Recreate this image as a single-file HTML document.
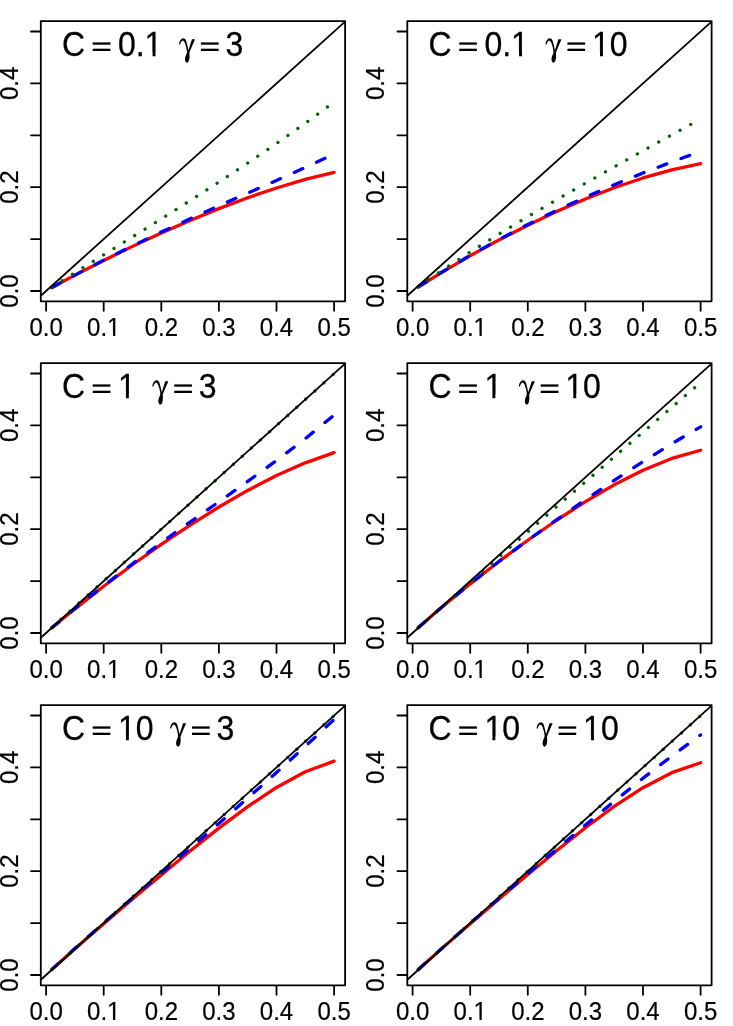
<!DOCTYPE html><html><head><meta charset="utf-8"><title>plot</title><style>html,body{margin:0;padding:0;background:#fff}svg{display:block}text{font-family:"Liberation Sans",sans-serif;fill:#000}</style></head><body><div style="will-change:transform;width:733px;height:1026px;background:#fff">
<svg width="733" height="1026" viewBox="0 0 733 1026">
<rect width="733" height="1026" fill="#fff"/>
<g transform="translate(0.0,0.0)">
<polyline points="51.86,287.53 74.90,275.17 103.70,260.42 132.50,246.37 161.30,233.04 190.10,220.43 218.90,208.64 247.70,197.76 276.50,187.96 305.30,179.43 334.10,172.43" fill="none" stroke="#ff0000" stroke-width="3.3" stroke-linecap="round" stroke-linejoin="round"/>
<polyline points="51.86,287.53 74.90,275.09 103.70,260.15 132.50,245.83 161.30,232.08 190.10,218.81 218.90,205.88 247.70,193.15 276.50,180.42 305.30,167.49 334.10,154.09" fill="none" stroke="#0000ff" stroke-width="3.3" stroke-linecap="round" stroke-linejoin="round" stroke-dasharray="9.3 15.11"/>
<polyline points="51.86,287.11 74.90,272.76 103.70,254.84 132.50,236.89 161.30,218.84 190.10,200.60 218.90,182.05 247.70,163.08 276.50,143.54 305.30,123.27 334.10,102.08" fill="none" stroke="#006400" stroke-width="3.3" stroke-linecap="round" stroke-linejoin="round" stroke-dasharray="0.01 12.19"/>
<line x1="40.8" y1="295.78" x2="345.1" y2="21.59" stroke="#000" stroke-width="1.8"/>
<rect x="40.8" y="21.1" width="304.30" height="280.20" fill="none" stroke="#000" stroke-width="1.8" stroke-linejoin="round"/>
<line x1="46.10" y1="302.0" x2="46.10" y2="310.75" stroke="#000" stroke-width="1.8" stroke-linecap="round"/>
<g transform="translate(46.10,336.0) scale(1,1.04)"><text font-size="24" text-anchor="middle" stroke="#000" stroke-width="0.2">0.0</text></g>
<line x1="40.099999999999994" y1="291.00" x2="30.999999999999996" y2="291.00" stroke="#000" stroke-width="1.8" stroke-linecap="round"/>
<text transform="translate(17.8,291.00) rotate(-90) scale(1,1.04)" font-size="24" text-anchor="middle" stroke="#000" stroke-width="0.2">0.0</text>
<line x1="103.70" y1="302.0" x2="103.70" y2="310.75" stroke="#000" stroke-width="1.8" stroke-linecap="round"/>
<g transform="translate(103.70,336.0) scale(1,1.04)"><text font-size="24" text-anchor="middle" stroke="#000" stroke-width="0.2">0.1</text><rect x="3.69" y="-2.23" width="5.64" height="3.67" fill="#fff"/><rect x="11.54" y="-2.23" width="5.74" height="3.67" fill="#fff"/></g>
<line x1="40.099999999999994" y1="239.10" x2="30.999999999999996" y2="239.10" stroke="#000" stroke-width="1.8" stroke-linecap="round"/>
<line x1="161.30" y1="302.0" x2="161.30" y2="310.75" stroke="#000" stroke-width="1.8" stroke-linecap="round"/>
<g transform="translate(161.30,336.0) scale(1,1.04)"><text font-size="24" text-anchor="middle" stroke="#000" stroke-width="0.2">0.2</text></g>
<line x1="40.099999999999994" y1="187.20" x2="30.999999999999996" y2="187.20" stroke="#000" stroke-width="1.8" stroke-linecap="round"/>
<text transform="translate(17.8,187.20) rotate(-90) scale(1,1.04)" font-size="24" text-anchor="middle" stroke="#000" stroke-width="0.2">0.2</text>
<line x1="218.90" y1="302.0" x2="218.90" y2="310.75" stroke="#000" stroke-width="1.8" stroke-linecap="round"/>
<g transform="translate(218.90,336.0) scale(1,1.04)"><text font-size="24" text-anchor="middle" stroke="#000" stroke-width="0.2">0.3</text></g>
<line x1="40.099999999999994" y1="135.30" x2="30.999999999999996" y2="135.30" stroke="#000" stroke-width="1.8" stroke-linecap="round"/>
<line x1="276.50" y1="302.0" x2="276.50" y2="310.75" stroke="#000" stroke-width="1.8" stroke-linecap="round"/>
<g transform="translate(276.50,336.0) scale(1,1.04)"><text font-size="24" text-anchor="middle" stroke="#000" stroke-width="0.2">0.4</text></g>
<line x1="40.099999999999994" y1="83.40" x2="30.999999999999996" y2="83.40" stroke="#000" stroke-width="1.8" stroke-linecap="round"/>
<text transform="translate(17.8,83.40) rotate(-90) scale(1,1.04)" font-size="24" text-anchor="middle" stroke="#000" stroke-width="0.2">0.4</text>
<line x1="334.10" y1="302.0" x2="334.10" y2="310.75" stroke="#000" stroke-width="1.8" stroke-linecap="round"/>
<g transform="translate(334.10,336.0) scale(1,1.04)"><text font-size="24" text-anchor="middle" stroke="#000" stroke-width="0.2">0.5</text></g>
<line x1="40.099999999999994" y1="31.50" x2="30.999999999999996" y2="31.50" stroke="#000" stroke-width="1.8" stroke-linecap="round"/>
<g transform="translate(62.00,55.7) scale(1,1.09)"><text font-size="32" stroke="#000" stroke-width="0.25">C</text></g>
<rect x="92.70" y="42.4" width="17.7" height="2.3" fill="#000"/><rect x="92.70" y="48.7" width="17.7" height="2.3" fill="#000"/>
<g transform="translate(117.90,55.7) scale(1,1.09)"><text font-size="32" stroke="#000" stroke-width="0.25">0.1</text><rect x="27.16" y="-2.97" width="7.52" height="4.89" fill="#fff"/><rect x="37.63" y="-2.97" width="7.66" height="4.89" fill="#fff"/></g>
<path transform="translate(179.30,55.60)" d="M-0.33 -11.10C-0.21 -11.64 0.02 -13.42 0.43 -14.34C0.84 -15.27 1.58 -16.14 2.15 -16.63C2.72 -17.12 3.26 -17.30 3.87 -17.28C4.47 -17.26 5.24 -17.07 5.78 -16.52C6.32 -15.97 6.72 -15.09 7.11 -13.96C7.51 -12.83 7.81 -11.19 8.15 -9.76C8.48 -8.33 8.97 -6.10 9.14 -5.37L12.65 -16.44L15.71 -16.44C15.10 -15.01 13.02 -10.11 12.08 -7.85C11.14 -5.59 10.39 -3.71 10.06 -2.88C10.09 -2.44 10.28 -1.23 10.28 -0.21C10.28 0.81 10.23 2.21 10.06 3.23C9.88 4.25 9.61 5.27 9.21 5.90C8.82 6.54 8.16 7.00 7.69 7.05C7.21 7.10 6.68 6.72 6.35 6.21C6.02 5.70 5.73 4.87 5.70 3.99C5.67 3.11 5.86 1.99 6.16 0.94C6.46 -0.11 7.25 -1.36 7.50 -2.31C7.74 -3.27 7.74 -3.68 7.61 -4.79C7.48 -5.91 7.07 -7.69 6.73 -8.99C6.39 -10.30 5.96 -11.75 5.59 -12.62C5.22 -13.50 4.88 -13.91 4.52 -14.27C4.15 -14.62 3.78 -14.76 3.41 -14.76C3.03 -14.76 2.61 -14.60 2.26 -14.27C1.92 -13.93 1.59 -13.27 1.35 -12.74C1.10 -12.21 0.90 -11.37 0.81 -11.10L-0.33 -11.10Z" fill="#000"/>
<rect x="200.90" y="42.4" width="17.7" height="2.3" fill="#000"/><rect x="200.90" y="48.7" width="17.7" height="2.3" fill="#000"/>
<g transform="translate(225.50,55.7) scale(1,1.09)"><text font-size="32" stroke="#000" stroke-width="0.25">3</text></g>
</g>
<g transform="translate(366.5,0.0)">
<polyline points="51.86,286.96 74.90,272.57 103.70,255.68 132.50,239.92 161.30,225.22 190.10,211.57 218.90,199.05 247.70,187.77 276.50,177.94 305.30,169.80 334.10,163.69" fill="none" stroke="#ff0000" stroke-width="3.3" stroke-linecap="round" stroke-linejoin="round"/>
<polyline points="51.86,286.96 74.90,272.49 103.70,255.43 132.50,239.46 161.30,224.48 190.10,210.42 218.90,197.21 247.70,184.77 276.50,173.03 305.30,161.93 334.10,151.39" fill="none" stroke="#0000ff" stroke-width="3.3" stroke-linecap="round" stroke-linejoin="round" stroke-dasharray="9.3 15.11"/>
<polyline points="51.86,286.62 74.90,270.80 103.70,251.99 132.50,234.02 161.30,216.68 190.10,199.79 218.90,183.23 247.70,166.91 276.50,150.76 305.30,134.77 334.10,118.97" fill="none" stroke="#006400" stroke-width="3.3" stroke-linecap="round" stroke-linejoin="round" stroke-dasharray="0.01 12.19"/>
<line x1="40.8" y1="295.78" x2="345.1" y2="21.59" stroke="#000" stroke-width="1.8"/>
<rect x="40.8" y="21.1" width="304.30" height="280.20" fill="none" stroke="#000" stroke-width="1.8" stroke-linejoin="round"/>
<line x1="46.10" y1="302.0" x2="46.10" y2="310.75" stroke="#000" stroke-width="1.8" stroke-linecap="round"/>
<g transform="translate(46.10,336.0) scale(1,1.04)"><text font-size="24" text-anchor="middle" stroke="#000" stroke-width="0.2">0.0</text></g>
<line x1="40.099999999999994" y1="291.00" x2="30.999999999999996" y2="291.00" stroke="#000" stroke-width="1.8" stroke-linecap="round"/>
<text transform="translate(17.8,291.00) rotate(-90) scale(1,1.04)" font-size="24" text-anchor="middle" stroke="#000" stroke-width="0.2">0.0</text>
<line x1="103.70" y1="302.0" x2="103.70" y2="310.75" stroke="#000" stroke-width="1.8" stroke-linecap="round"/>
<g transform="translate(103.70,336.0) scale(1,1.04)"><text font-size="24" text-anchor="middle" stroke="#000" stroke-width="0.2">0.1</text><rect x="3.69" y="-2.23" width="5.64" height="3.67" fill="#fff"/><rect x="11.54" y="-2.23" width="5.74" height="3.67" fill="#fff"/></g>
<line x1="40.099999999999994" y1="239.10" x2="30.999999999999996" y2="239.10" stroke="#000" stroke-width="1.8" stroke-linecap="round"/>
<line x1="161.30" y1="302.0" x2="161.30" y2="310.75" stroke="#000" stroke-width="1.8" stroke-linecap="round"/>
<g transform="translate(161.30,336.0) scale(1,1.04)"><text font-size="24" text-anchor="middle" stroke="#000" stroke-width="0.2">0.2</text></g>
<line x1="40.099999999999994" y1="187.20" x2="30.999999999999996" y2="187.20" stroke="#000" stroke-width="1.8" stroke-linecap="round"/>
<text transform="translate(17.8,187.20) rotate(-90) scale(1,1.04)" font-size="24" text-anchor="middle" stroke="#000" stroke-width="0.2">0.2</text>
<line x1="218.90" y1="302.0" x2="218.90" y2="310.75" stroke="#000" stroke-width="1.8" stroke-linecap="round"/>
<g transform="translate(218.90,336.0) scale(1,1.04)"><text font-size="24" text-anchor="middle" stroke="#000" stroke-width="0.2">0.3</text></g>
<line x1="40.099999999999994" y1="135.30" x2="30.999999999999996" y2="135.30" stroke="#000" stroke-width="1.8" stroke-linecap="round"/>
<line x1="276.50" y1="302.0" x2="276.50" y2="310.75" stroke="#000" stroke-width="1.8" stroke-linecap="round"/>
<g transform="translate(276.50,336.0) scale(1,1.04)"><text font-size="24" text-anchor="middle" stroke="#000" stroke-width="0.2">0.4</text></g>
<line x1="40.099999999999994" y1="83.40" x2="30.999999999999996" y2="83.40" stroke="#000" stroke-width="1.8" stroke-linecap="round"/>
<text transform="translate(17.8,83.40) rotate(-90) scale(1,1.04)" font-size="24" text-anchor="middle" stroke="#000" stroke-width="0.2">0.4</text>
<line x1="334.10" y1="302.0" x2="334.10" y2="310.75" stroke="#000" stroke-width="1.8" stroke-linecap="round"/>
<g transform="translate(334.10,336.0) scale(1,1.04)"><text font-size="24" text-anchor="middle" stroke="#000" stroke-width="0.2">0.5</text></g>
<line x1="40.099999999999994" y1="31.50" x2="30.999999999999996" y2="31.50" stroke="#000" stroke-width="1.8" stroke-linecap="round"/>
<g transform="translate(62.00,55.7) scale(1,1.09)"><text font-size="32" stroke="#000" stroke-width="0.25">C</text></g>
<rect x="92.70" y="42.4" width="17.7" height="2.3" fill="#000"/><rect x="92.70" y="48.7" width="17.7" height="2.3" fill="#000"/>
<g transform="translate(117.90,55.7) scale(1,1.09)"><text font-size="32" stroke="#000" stroke-width="0.25">0.1</text><rect x="27.16" y="-2.97" width="7.52" height="4.89" fill="#fff"/><rect x="37.63" y="-2.97" width="7.66" height="4.89" fill="#fff"/></g>
<path transform="translate(179.30,55.60)" d="M-0.33 -11.10C-0.21 -11.64 0.02 -13.42 0.43 -14.34C0.84 -15.27 1.58 -16.14 2.15 -16.63C2.72 -17.12 3.26 -17.30 3.87 -17.28C4.47 -17.26 5.24 -17.07 5.78 -16.52C6.32 -15.97 6.72 -15.09 7.11 -13.96C7.51 -12.83 7.81 -11.19 8.15 -9.76C8.48 -8.33 8.97 -6.10 9.14 -5.37L12.65 -16.44L15.71 -16.44C15.10 -15.01 13.02 -10.11 12.08 -7.85C11.14 -5.59 10.39 -3.71 10.06 -2.88C10.09 -2.44 10.28 -1.23 10.28 -0.21C10.28 0.81 10.23 2.21 10.06 3.23C9.88 4.25 9.61 5.27 9.21 5.90C8.82 6.54 8.16 7.00 7.69 7.05C7.21 7.10 6.68 6.72 6.35 6.21C6.02 5.70 5.73 4.87 5.70 3.99C5.67 3.11 5.86 1.99 6.16 0.94C6.46 -0.11 7.25 -1.36 7.50 -2.31C7.74 -3.27 7.74 -3.68 7.61 -4.79C7.48 -5.91 7.07 -7.69 6.73 -8.99C6.39 -10.30 5.96 -11.75 5.59 -12.62C5.22 -13.50 4.88 -13.91 4.52 -14.27C4.15 -14.62 3.78 -14.76 3.41 -14.76C3.03 -14.76 2.61 -14.60 2.26 -14.27C1.92 -13.93 1.59 -13.27 1.35 -12.74C1.10 -12.21 0.90 -11.37 0.81 -11.10L-0.33 -11.10Z" fill="#000"/>
<rect x="200.90" y="42.4" width="17.7" height="2.3" fill="#000"/><rect x="200.90" y="48.7" width="17.7" height="2.3" fill="#000"/>
<g transform="translate(225.50,55.7) scale(1,1.09)"><text font-size="32" stroke="#000" stroke-width="0.25">10</text><rect x="0.47" y="-2.97" width="7.52" height="4.89" fill="#fff"/><rect x="10.94" y="-2.97" width="7.66" height="4.89" fill="#fff"/></g>
</g>
<g transform="translate(0.0,342.0)">
<polyline points="51.86,285.82 74.90,266.85 103.70,244.23 132.50,222.74 161.30,202.33 190.10,183.04 218.90,165.00 247.70,148.41 276.50,133.56 305.30,120.82 334.10,110.64" fill="none" stroke="#ff0000" stroke-width="3.3" stroke-linecap="round" stroke-linejoin="round"/>
<polyline points="51.86,285.81 74.90,266.70 103.70,243.74 132.50,221.76 161.30,200.60 190.10,180.03 218.90,159.75 247.70,139.41 276.50,118.54 305.30,96.63 334.10,73.11" fill="none" stroke="#0000ff" stroke-width="3.3" stroke-linecap="round" stroke-linejoin="round" stroke-dasharray="9.3 15.11"/>
<polyline points="51.86,285.52 74.90,264.80 103.70,238.90 132.50,213.00 161.30,187.10 190.10,161.20 218.90,135.30 247.70,109.40 276.50,83.50 305.30,57.60 334.10,31.70" fill="none" stroke="#006400" stroke-width="3.3" stroke-linecap="round" stroke-linejoin="round" stroke-dasharray="0.01 12.19"/>
<line x1="40.8" y1="295.78" x2="345.1" y2="21.59" stroke="#000" stroke-width="1.8"/>
<rect x="40.8" y="21.1" width="304.30" height="280.20" fill="none" stroke="#000" stroke-width="1.8" stroke-linejoin="round"/>
<line x1="46.10" y1="302.0" x2="46.10" y2="310.75" stroke="#000" stroke-width="1.8" stroke-linecap="round"/>
<g transform="translate(46.10,336.0) scale(1,1.04)"><text font-size="24" text-anchor="middle" stroke="#000" stroke-width="0.2">0.0</text></g>
<line x1="40.099999999999994" y1="291.00" x2="30.999999999999996" y2="291.00" stroke="#000" stroke-width="1.8" stroke-linecap="round"/>
<text transform="translate(17.8,291.00) rotate(-90) scale(1,1.04)" font-size="24" text-anchor="middle" stroke="#000" stroke-width="0.2">0.0</text>
<line x1="103.70" y1="302.0" x2="103.70" y2="310.75" stroke="#000" stroke-width="1.8" stroke-linecap="round"/>
<g transform="translate(103.70,336.0) scale(1,1.04)"><text font-size="24" text-anchor="middle" stroke="#000" stroke-width="0.2">0.1</text><rect x="3.69" y="-2.23" width="5.64" height="3.67" fill="#fff"/><rect x="11.54" y="-2.23" width="5.74" height="3.67" fill="#fff"/></g>
<line x1="40.099999999999994" y1="239.10" x2="30.999999999999996" y2="239.10" stroke="#000" stroke-width="1.8" stroke-linecap="round"/>
<line x1="161.30" y1="302.0" x2="161.30" y2="310.75" stroke="#000" stroke-width="1.8" stroke-linecap="round"/>
<g transform="translate(161.30,336.0) scale(1,1.04)"><text font-size="24" text-anchor="middle" stroke="#000" stroke-width="0.2">0.2</text></g>
<line x1="40.099999999999994" y1="187.20" x2="30.999999999999996" y2="187.20" stroke="#000" stroke-width="1.8" stroke-linecap="round"/>
<text transform="translate(17.8,187.20) rotate(-90) scale(1,1.04)" font-size="24" text-anchor="middle" stroke="#000" stroke-width="0.2">0.2</text>
<line x1="218.90" y1="302.0" x2="218.90" y2="310.75" stroke="#000" stroke-width="1.8" stroke-linecap="round"/>
<g transform="translate(218.90,336.0) scale(1,1.04)"><text font-size="24" text-anchor="middle" stroke="#000" stroke-width="0.2">0.3</text></g>
<line x1="40.099999999999994" y1="135.30" x2="30.999999999999996" y2="135.30" stroke="#000" stroke-width="1.8" stroke-linecap="round"/>
<line x1="276.50" y1="302.0" x2="276.50" y2="310.75" stroke="#000" stroke-width="1.8" stroke-linecap="round"/>
<g transform="translate(276.50,336.0) scale(1,1.04)"><text font-size="24" text-anchor="middle" stroke="#000" stroke-width="0.2">0.4</text></g>
<line x1="40.099999999999994" y1="83.40" x2="30.999999999999996" y2="83.40" stroke="#000" stroke-width="1.8" stroke-linecap="round"/>
<text transform="translate(17.8,83.40) rotate(-90) scale(1,1.04)" font-size="24" text-anchor="middle" stroke="#000" stroke-width="0.2">0.4</text>
<line x1="334.10" y1="302.0" x2="334.10" y2="310.75" stroke="#000" stroke-width="1.8" stroke-linecap="round"/>
<g transform="translate(334.10,336.0) scale(1,1.04)"><text font-size="24" text-anchor="middle" stroke="#000" stroke-width="0.2">0.5</text></g>
<line x1="40.099999999999994" y1="31.50" x2="30.999999999999996" y2="31.50" stroke="#000" stroke-width="1.8" stroke-linecap="round"/>
<g transform="translate(62.00,55.7) scale(1,1.09)"><text font-size="32" stroke="#000" stroke-width="0.25">C</text></g>
<rect x="92.70" y="42.4" width="17.7" height="2.3" fill="#000"/><rect x="92.70" y="48.7" width="17.7" height="2.3" fill="#000"/>
<g transform="translate(117.90,55.7) scale(1,1.09)"><text font-size="32" stroke="#000" stroke-width="0.25">1</text><rect x="0.47" y="-2.97" width="7.52" height="4.89" fill="#fff"/><rect x="10.94" y="-2.97" width="7.66" height="4.89" fill="#fff"/></g>
<path transform="translate(152.61,55.60)" d="M-0.33 -11.10C-0.21 -11.64 0.02 -13.42 0.43 -14.34C0.84 -15.27 1.58 -16.14 2.15 -16.63C2.72 -17.12 3.26 -17.30 3.87 -17.28C4.47 -17.26 5.24 -17.07 5.78 -16.52C6.32 -15.97 6.72 -15.09 7.11 -13.96C7.51 -12.83 7.81 -11.19 8.15 -9.76C8.48 -8.33 8.97 -6.10 9.14 -5.37L12.65 -16.44L15.71 -16.44C15.10 -15.01 13.02 -10.11 12.08 -7.85C11.14 -5.59 10.39 -3.71 10.06 -2.88C10.09 -2.44 10.28 -1.23 10.28 -0.21C10.28 0.81 10.23 2.21 10.06 3.23C9.88 4.25 9.61 5.27 9.21 5.90C8.82 6.54 8.16 7.00 7.69 7.05C7.21 7.10 6.68 6.72 6.35 6.21C6.02 5.70 5.73 4.87 5.70 3.99C5.67 3.11 5.86 1.99 6.16 0.94C6.46 -0.11 7.25 -1.36 7.50 -2.31C7.74 -3.27 7.74 -3.68 7.61 -4.79C7.48 -5.91 7.07 -7.69 6.73 -8.99C6.39 -10.30 5.96 -11.75 5.59 -12.62C5.22 -13.50 4.88 -13.91 4.52 -14.27C4.15 -14.62 3.78 -14.76 3.41 -14.76C3.03 -14.76 2.61 -14.60 2.26 -14.27C1.92 -13.93 1.59 -13.27 1.35 -12.74C1.10 -12.21 0.90 -11.37 0.81 -11.10L-0.33 -11.10Z" fill="#000"/>
<rect x="174.21" y="42.4" width="17.7" height="2.3" fill="#000"/><rect x="174.21" y="48.7" width="17.7" height="2.3" fill="#000"/>
<g transform="translate(198.81,55.7) scale(1,1.09)"><text font-size="32" stroke="#000" stroke-width="0.25">3</text></g>
</g>
<g transform="translate(366.5,342.0)">
<polyline points="51.86,285.52 74.90,265.50 103.70,241.83 132.50,219.45 161.30,198.25 190.10,178.26 218.90,159.68 247.70,142.84 276.50,128.21 305.30,116.42 334.10,108.25" fill="none" stroke="#ff0000" stroke-width="3.3" stroke-linecap="round" stroke-linejoin="round"/>
<polyline points="51.86,285.52 74.90,265.50 103.70,241.83 132.50,219.45 161.30,198.25 190.10,177.77 218.90,157.77 247.70,138.36 276.50,119.61 305.30,101.69 334.10,84.85" fill="none" stroke="#0000ff" stroke-width="3.3" stroke-linecap="round" stroke-linejoin="round" stroke-dasharray="9.3 15.11"/>
<polyline points="51.86,285.71 74.90,265.62 103.70,240.33 132.50,214.99 161.30,189.72 190.10,164.60 218.90,139.66 247.70,114.86 276.50,90.15 305.30,65.40 334.10,40.46" fill="none" stroke="#006400" stroke-width="3.3" stroke-linecap="round" stroke-linejoin="round" stroke-dasharray="0.01 12.19"/>
<line x1="40.8" y1="295.78" x2="345.1" y2="21.59" stroke="#000" stroke-width="1.8"/>
<rect x="40.8" y="21.1" width="304.30" height="280.20" fill="none" stroke="#000" stroke-width="1.8" stroke-linejoin="round"/>
<line x1="46.10" y1="302.0" x2="46.10" y2="310.75" stroke="#000" stroke-width="1.8" stroke-linecap="round"/>
<g transform="translate(46.10,336.0) scale(1,1.04)"><text font-size="24" text-anchor="middle" stroke="#000" stroke-width="0.2">0.0</text></g>
<line x1="40.099999999999994" y1="291.00" x2="30.999999999999996" y2="291.00" stroke="#000" stroke-width="1.8" stroke-linecap="round"/>
<text transform="translate(17.8,291.00) rotate(-90) scale(1,1.04)" font-size="24" text-anchor="middle" stroke="#000" stroke-width="0.2">0.0</text>
<line x1="103.70" y1="302.0" x2="103.70" y2="310.75" stroke="#000" stroke-width="1.8" stroke-linecap="round"/>
<g transform="translate(103.70,336.0) scale(1,1.04)"><text font-size="24" text-anchor="middle" stroke="#000" stroke-width="0.2">0.1</text><rect x="3.69" y="-2.23" width="5.64" height="3.67" fill="#fff"/><rect x="11.54" y="-2.23" width="5.74" height="3.67" fill="#fff"/></g>
<line x1="40.099999999999994" y1="239.10" x2="30.999999999999996" y2="239.10" stroke="#000" stroke-width="1.8" stroke-linecap="round"/>
<line x1="161.30" y1="302.0" x2="161.30" y2="310.75" stroke="#000" stroke-width="1.8" stroke-linecap="round"/>
<g transform="translate(161.30,336.0) scale(1,1.04)"><text font-size="24" text-anchor="middle" stroke="#000" stroke-width="0.2">0.2</text></g>
<line x1="40.099999999999994" y1="187.20" x2="30.999999999999996" y2="187.20" stroke="#000" stroke-width="1.8" stroke-linecap="round"/>
<text transform="translate(17.8,187.20) rotate(-90) scale(1,1.04)" font-size="24" text-anchor="middle" stroke="#000" stroke-width="0.2">0.2</text>
<line x1="218.90" y1="302.0" x2="218.90" y2="310.75" stroke="#000" stroke-width="1.8" stroke-linecap="round"/>
<g transform="translate(218.90,336.0) scale(1,1.04)"><text font-size="24" text-anchor="middle" stroke="#000" stroke-width="0.2">0.3</text></g>
<line x1="40.099999999999994" y1="135.30" x2="30.999999999999996" y2="135.30" stroke="#000" stroke-width="1.8" stroke-linecap="round"/>
<line x1="276.50" y1="302.0" x2="276.50" y2="310.75" stroke="#000" stroke-width="1.8" stroke-linecap="round"/>
<g transform="translate(276.50,336.0) scale(1,1.04)"><text font-size="24" text-anchor="middle" stroke="#000" stroke-width="0.2">0.4</text></g>
<line x1="40.099999999999994" y1="83.40" x2="30.999999999999996" y2="83.40" stroke="#000" stroke-width="1.8" stroke-linecap="round"/>
<text transform="translate(17.8,83.40) rotate(-90) scale(1,1.04)" font-size="24" text-anchor="middle" stroke="#000" stroke-width="0.2">0.4</text>
<line x1="334.10" y1="302.0" x2="334.10" y2="310.75" stroke="#000" stroke-width="1.8" stroke-linecap="round"/>
<g transform="translate(334.10,336.0) scale(1,1.04)"><text font-size="24" text-anchor="middle" stroke="#000" stroke-width="0.2">0.5</text></g>
<line x1="40.099999999999994" y1="31.50" x2="30.999999999999996" y2="31.50" stroke="#000" stroke-width="1.8" stroke-linecap="round"/>
<g transform="translate(62.00,55.7) scale(1,1.09)"><text font-size="32" stroke="#000" stroke-width="0.25">C</text></g>
<rect x="92.70" y="42.4" width="17.7" height="2.3" fill="#000"/><rect x="92.70" y="48.7" width="17.7" height="2.3" fill="#000"/>
<g transform="translate(117.90,55.7) scale(1,1.09)"><text font-size="32" stroke="#000" stroke-width="0.25">1</text><rect x="0.47" y="-2.97" width="7.52" height="4.89" fill="#fff"/><rect x="10.94" y="-2.97" width="7.66" height="4.89" fill="#fff"/></g>
<path transform="translate(152.61,55.60)" d="M-0.33 -11.10C-0.21 -11.64 0.02 -13.42 0.43 -14.34C0.84 -15.27 1.58 -16.14 2.15 -16.63C2.72 -17.12 3.26 -17.30 3.87 -17.28C4.47 -17.26 5.24 -17.07 5.78 -16.52C6.32 -15.97 6.72 -15.09 7.11 -13.96C7.51 -12.83 7.81 -11.19 8.15 -9.76C8.48 -8.33 8.97 -6.10 9.14 -5.37L12.65 -16.44L15.71 -16.44C15.10 -15.01 13.02 -10.11 12.08 -7.85C11.14 -5.59 10.39 -3.71 10.06 -2.88C10.09 -2.44 10.28 -1.23 10.28 -0.21C10.28 0.81 10.23 2.21 10.06 3.23C9.88 4.25 9.61 5.27 9.21 5.90C8.82 6.54 8.16 7.00 7.69 7.05C7.21 7.10 6.68 6.72 6.35 6.21C6.02 5.70 5.73 4.87 5.70 3.99C5.67 3.11 5.86 1.99 6.16 0.94C6.46 -0.11 7.25 -1.36 7.50 -2.31C7.74 -3.27 7.74 -3.68 7.61 -4.79C7.48 -5.91 7.07 -7.69 6.73 -8.99C6.39 -10.30 5.96 -11.75 5.59 -12.62C5.22 -13.50 4.88 -13.91 4.52 -14.27C4.15 -14.62 3.78 -14.76 3.41 -14.76C3.03 -14.76 2.61 -14.60 2.26 -14.27C1.92 -13.93 1.59 -13.27 1.35 -12.74C1.10 -12.21 0.90 -11.37 0.81 -11.10L-0.33 -11.10Z" fill="#000"/>
<rect x="174.21" y="42.4" width="17.7" height="2.3" fill="#000"/><rect x="174.21" y="48.7" width="17.7" height="2.3" fill="#000"/>
<g transform="translate(198.81,55.7) scale(1,1.09)"><text font-size="32" stroke="#000" stroke-width="0.25">10</text><rect x="0.47" y="-2.97" width="7.52" height="4.89" fill="#fff"/><rect x="10.94" y="-2.97" width="7.66" height="4.89" fill="#fff"/></g>
</g>
<g transform="translate(0.0,684.0)">
<polyline points="51.86,285.40 74.90,264.72 103.70,239.67 132.50,215.11 161.30,190.89 190.10,167.10 218.90,144.12 247.70,122.60 276.50,103.44 305.30,87.81 334.10,77.16" fill="none" stroke="#ff0000" stroke-width="3.3" stroke-linecap="round" stroke-linejoin="round"/>
<polyline points="51.86,285.39 74.90,264.50 103.70,239.00 132.50,213.96 161.30,189.15 190.10,164.36 218.90,139.42 247.70,114.17 276.50,88.50 305.30,62.31 334.10,35.52" fill="none" stroke="#0000ff" stroke-width="3.3" stroke-linecap="round" stroke-linejoin="round" stroke-dasharray="9.3 15.11"/>
<polyline points="51.86,285.52 74.90,264.80 103.70,238.90 132.50,213.00 161.30,187.10 190.10,161.20 218.90,135.30 247.70,109.40 276.50,83.50 305.30,57.60 334.10,31.70" fill="none" stroke="#006400" stroke-width="3.3" stroke-linecap="round" stroke-linejoin="round" stroke-dasharray="0.01 12.19"/>
<line x1="40.8" y1="295.78" x2="345.1" y2="21.59" stroke="#000" stroke-width="1.8"/>
<rect x="40.8" y="21.1" width="304.30" height="280.20" fill="none" stroke="#000" stroke-width="1.8" stroke-linejoin="round"/>
<line x1="46.10" y1="302.0" x2="46.10" y2="310.75" stroke="#000" stroke-width="1.8" stroke-linecap="round"/>
<g transform="translate(46.10,336.0) scale(1,1.04)"><text font-size="24" text-anchor="middle" stroke="#000" stroke-width="0.2">0.0</text></g>
<line x1="40.099999999999994" y1="291.00" x2="30.999999999999996" y2="291.00" stroke="#000" stroke-width="1.8" stroke-linecap="round"/>
<text transform="translate(17.8,291.00) rotate(-90) scale(1,1.04)" font-size="24" text-anchor="middle" stroke="#000" stroke-width="0.2">0.0</text>
<line x1="103.70" y1="302.0" x2="103.70" y2="310.75" stroke="#000" stroke-width="1.8" stroke-linecap="round"/>
<g transform="translate(103.70,336.0) scale(1,1.04)"><text font-size="24" text-anchor="middle" stroke="#000" stroke-width="0.2">0.1</text><rect x="3.69" y="-2.23" width="5.64" height="3.67" fill="#fff"/><rect x="11.54" y="-2.23" width="5.74" height="3.67" fill="#fff"/></g>
<line x1="40.099999999999994" y1="239.10" x2="30.999999999999996" y2="239.10" stroke="#000" stroke-width="1.8" stroke-linecap="round"/>
<line x1="161.30" y1="302.0" x2="161.30" y2="310.75" stroke="#000" stroke-width="1.8" stroke-linecap="round"/>
<g transform="translate(161.30,336.0) scale(1,1.04)"><text font-size="24" text-anchor="middle" stroke="#000" stroke-width="0.2">0.2</text></g>
<line x1="40.099999999999994" y1="187.20" x2="30.999999999999996" y2="187.20" stroke="#000" stroke-width="1.8" stroke-linecap="round"/>
<text transform="translate(17.8,187.20) rotate(-90) scale(1,1.04)" font-size="24" text-anchor="middle" stroke="#000" stroke-width="0.2">0.2</text>
<line x1="218.90" y1="302.0" x2="218.90" y2="310.75" stroke="#000" stroke-width="1.8" stroke-linecap="round"/>
<g transform="translate(218.90,336.0) scale(1,1.04)"><text font-size="24" text-anchor="middle" stroke="#000" stroke-width="0.2">0.3</text></g>
<line x1="40.099999999999994" y1="135.30" x2="30.999999999999996" y2="135.30" stroke="#000" stroke-width="1.8" stroke-linecap="round"/>
<line x1="276.50" y1="302.0" x2="276.50" y2="310.75" stroke="#000" stroke-width="1.8" stroke-linecap="round"/>
<g transform="translate(276.50,336.0) scale(1,1.04)"><text font-size="24" text-anchor="middle" stroke="#000" stroke-width="0.2">0.4</text></g>
<line x1="40.099999999999994" y1="83.40" x2="30.999999999999996" y2="83.40" stroke="#000" stroke-width="1.8" stroke-linecap="round"/>
<text transform="translate(17.8,83.40) rotate(-90) scale(1,1.04)" font-size="24" text-anchor="middle" stroke="#000" stroke-width="0.2">0.4</text>
<line x1="334.10" y1="302.0" x2="334.10" y2="310.75" stroke="#000" stroke-width="1.8" stroke-linecap="round"/>
<g transform="translate(334.10,336.0) scale(1,1.04)"><text font-size="24" text-anchor="middle" stroke="#000" stroke-width="0.2">0.5</text></g>
<line x1="40.099999999999994" y1="31.50" x2="30.999999999999996" y2="31.50" stroke="#000" stroke-width="1.8" stroke-linecap="round"/>
<g transform="translate(62.00,55.7) scale(1,1.09)"><text font-size="32" stroke="#000" stroke-width="0.25">C</text></g>
<rect x="92.70" y="42.4" width="17.7" height="2.3" fill="#000"/><rect x="92.70" y="48.7" width="17.7" height="2.3" fill="#000"/>
<g transform="translate(117.90,55.7) scale(1,1.09)"><text font-size="32" stroke="#000" stroke-width="0.25">10</text><rect x="0.47" y="-2.97" width="7.52" height="4.89" fill="#fff"/><rect x="10.94" y="-2.97" width="7.66" height="4.89" fill="#fff"/></g>
<path transform="translate(170.40,55.60)" d="M-0.33 -11.10C-0.21 -11.64 0.02 -13.42 0.43 -14.34C0.84 -15.27 1.58 -16.14 2.15 -16.63C2.72 -17.12 3.26 -17.30 3.87 -17.28C4.47 -17.26 5.24 -17.07 5.78 -16.52C6.32 -15.97 6.72 -15.09 7.11 -13.96C7.51 -12.83 7.81 -11.19 8.15 -9.76C8.48 -8.33 8.97 -6.10 9.14 -5.37L12.65 -16.44L15.71 -16.44C15.10 -15.01 13.02 -10.11 12.08 -7.85C11.14 -5.59 10.39 -3.71 10.06 -2.88C10.09 -2.44 10.28 -1.23 10.28 -0.21C10.28 0.81 10.23 2.21 10.06 3.23C9.88 4.25 9.61 5.27 9.21 5.90C8.82 6.54 8.16 7.00 7.69 7.05C7.21 7.10 6.68 6.72 6.35 6.21C6.02 5.70 5.73 4.87 5.70 3.99C5.67 3.11 5.86 1.99 6.16 0.94C6.46 -0.11 7.25 -1.36 7.50 -2.31C7.74 -3.27 7.74 -3.68 7.61 -4.79C7.48 -5.91 7.07 -7.69 6.73 -8.99C6.39 -10.30 5.96 -11.75 5.59 -12.62C5.22 -13.50 4.88 -13.91 4.52 -14.27C4.15 -14.62 3.78 -14.76 3.41 -14.76C3.03 -14.76 2.61 -14.60 2.26 -14.27C1.92 -13.93 1.59 -13.27 1.35 -12.74C1.10 -12.21 0.90 -11.37 0.81 -11.10L-0.33 -11.10Z" fill="#000"/>
<rect x="192.00" y="42.4" width="17.7" height="2.3" fill="#000"/><rect x="192.00" y="48.7" width="17.7" height="2.3" fill="#000"/>
<g transform="translate(216.60,55.7) scale(1,1.09)"><text font-size="32" stroke="#000" stroke-width="0.25">3</text></g>
</g>
<g transform="translate(366.5,684.0)">
<polyline points="51.86,285.46 74.90,264.86 103.70,239.72 132.50,214.97 161.30,190.56 190.10,166.68 218.90,143.75 247.70,122.46 276.50,103.71 305.30,88.68 334.10,78.76" fill="none" stroke="#ff0000" stroke-width="3.3" stroke-linecap="round" stroke-linejoin="round"/>
<polyline points="51.86,285.45 74.90,264.73 103.70,239.33 132.50,214.34 161.30,189.65 190.10,165.21 218.90,141.08 247.70,117.37 276.50,94.26 305.30,72.01 334.10,50.96" fill="none" stroke="#0000ff" stroke-width="3.3" stroke-linecap="round" stroke-linejoin="round" stroke-dasharray="9.3 15.11"/>
<polyline points="51.86,285.52 74.90,264.80 103.70,238.90 132.50,213.00 161.30,187.10 190.10,161.20 218.90,135.30 247.70,109.40 276.50,83.50 305.30,57.60 334.10,31.70" fill="none" stroke="#006400" stroke-width="3.3" stroke-linecap="round" stroke-linejoin="round" stroke-dasharray="0.01 12.19"/>
<line x1="40.8" y1="295.78" x2="345.1" y2="21.59" stroke="#000" stroke-width="1.8"/>
<rect x="40.8" y="21.1" width="304.30" height="280.20" fill="none" stroke="#000" stroke-width="1.8" stroke-linejoin="round"/>
<line x1="46.10" y1="302.0" x2="46.10" y2="310.75" stroke="#000" stroke-width="1.8" stroke-linecap="round"/>
<g transform="translate(46.10,336.0) scale(1,1.04)"><text font-size="24" text-anchor="middle" stroke="#000" stroke-width="0.2">0.0</text></g>
<line x1="40.099999999999994" y1="291.00" x2="30.999999999999996" y2="291.00" stroke="#000" stroke-width="1.8" stroke-linecap="round"/>
<text transform="translate(17.8,291.00) rotate(-90) scale(1,1.04)" font-size="24" text-anchor="middle" stroke="#000" stroke-width="0.2">0.0</text>
<line x1="103.70" y1="302.0" x2="103.70" y2="310.75" stroke="#000" stroke-width="1.8" stroke-linecap="round"/>
<g transform="translate(103.70,336.0) scale(1,1.04)"><text font-size="24" text-anchor="middle" stroke="#000" stroke-width="0.2">0.1</text><rect x="3.69" y="-2.23" width="5.64" height="3.67" fill="#fff"/><rect x="11.54" y="-2.23" width="5.74" height="3.67" fill="#fff"/></g>
<line x1="40.099999999999994" y1="239.10" x2="30.999999999999996" y2="239.10" stroke="#000" stroke-width="1.8" stroke-linecap="round"/>
<line x1="161.30" y1="302.0" x2="161.30" y2="310.75" stroke="#000" stroke-width="1.8" stroke-linecap="round"/>
<g transform="translate(161.30,336.0) scale(1,1.04)"><text font-size="24" text-anchor="middle" stroke="#000" stroke-width="0.2">0.2</text></g>
<line x1="40.099999999999994" y1="187.20" x2="30.999999999999996" y2="187.20" stroke="#000" stroke-width="1.8" stroke-linecap="round"/>
<text transform="translate(17.8,187.20) rotate(-90) scale(1,1.04)" font-size="24" text-anchor="middle" stroke="#000" stroke-width="0.2">0.2</text>
<line x1="218.90" y1="302.0" x2="218.90" y2="310.75" stroke="#000" stroke-width="1.8" stroke-linecap="round"/>
<g transform="translate(218.90,336.0) scale(1,1.04)"><text font-size="24" text-anchor="middle" stroke="#000" stroke-width="0.2">0.3</text></g>
<line x1="40.099999999999994" y1="135.30" x2="30.999999999999996" y2="135.30" stroke="#000" stroke-width="1.8" stroke-linecap="round"/>
<line x1="276.50" y1="302.0" x2="276.50" y2="310.75" stroke="#000" stroke-width="1.8" stroke-linecap="round"/>
<g transform="translate(276.50,336.0) scale(1,1.04)"><text font-size="24" text-anchor="middle" stroke="#000" stroke-width="0.2">0.4</text></g>
<line x1="40.099999999999994" y1="83.40" x2="30.999999999999996" y2="83.40" stroke="#000" stroke-width="1.8" stroke-linecap="round"/>
<text transform="translate(17.8,83.40) rotate(-90) scale(1,1.04)" font-size="24" text-anchor="middle" stroke="#000" stroke-width="0.2">0.4</text>
<line x1="334.10" y1="302.0" x2="334.10" y2="310.75" stroke="#000" stroke-width="1.8" stroke-linecap="round"/>
<g transform="translate(334.10,336.0) scale(1,1.04)"><text font-size="24" text-anchor="middle" stroke="#000" stroke-width="0.2">0.5</text></g>
<line x1="40.099999999999994" y1="31.50" x2="30.999999999999996" y2="31.50" stroke="#000" stroke-width="1.8" stroke-linecap="round"/>
<g transform="translate(62.00,55.7) scale(1,1.09)"><text font-size="32" stroke="#000" stroke-width="0.25">C</text></g>
<rect x="92.70" y="42.4" width="17.7" height="2.3" fill="#000"/><rect x="92.70" y="48.7" width="17.7" height="2.3" fill="#000"/>
<g transform="translate(117.90,55.7) scale(1,1.09)"><text font-size="32" stroke="#000" stroke-width="0.25">10</text><rect x="0.47" y="-2.97" width="7.52" height="4.89" fill="#fff"/><rect x="10.94" y="-2.97" width="7.66" height="4.89" fill="#fff"/></g>
<path transform="translate(170.40,55.60)" d="M-0.33 -11.10C-0.21 -11.64 0.02 -13.42 0.43 -14.34C0.84 -15.27 1.58 -16.14 2.15 -16.63C2.72 -17.12 3.26 -17.30 3.87 -17.28C4.47 -17.26 5.24 -17.07 5.78 -16.52C6.32 -15.97 6.72 -15.09 7.11 -13.96C7.51 -12.83 7.81 -11.19 8.15 -9.76C8.48 -8.33 8.97 -6.10 9.14 -5.37L12.65 -16.44L15.71 -16.44C15.10 -15.01 13.02 -10.11 12.08 -7.85C11.14 -5.59 10.39 -3.71 10.06 -2.88C10.09 -2.44 10.28 -1.23 10.28 -0.21C10.28 0.81 10.23 2.21 10.06 3.23C9.88 4.25 9.61 5.27 9.21 5.90C8.82 6.54 8.16 7.00 7.69 7.05C7.21 7.10 6.68 6.72 6.35 6.21C6.02 5.70 5.73 4.87 5.70 3.99C5.67 3.11 5.86 1.99 6.16 0.94C6.46 -0.11 7.25 -1.36 7.50 -2.31C7.74 -3.27 7.74 -3.68 7.61 -4.79C7.48 -5.91 7.07 -7.69 6.73 -8.99C6.39 -10.30 5.96 -11.75 5.59 -12.62C5.22 -13.50 4.88 -13.91 4.52 -14.27C4.15 -14.62 3.78 -14.76 3.41 -14.76C3.03 -14.76 2.61 -14.60 2.26 -14.27C1.92 -13.93 1.59 -13.27 1.35 -12.74C1.10 -12.21 0.90 -11.37 0.81 -11.10L-0.33 -11.10Z" fill="#000"/>
<rect x="192.00" y="42.4" width="17.7" height="2.3" fill="#000"/><rect x="192.00" y="48.7" width="17.7" height="2.3" fill="#000"/>
<g transform="translate(216.60,55.7) scale(1,1.09)"><text font-size="32" stroke="#000" stroke-width="0.25">10</text><rect x="0.47" y="-2.97" width="7.52" height="4.89" fill="#fff"/><rect x="10.94" y="-2.97" width="7.66" height="4.89" fill="#fff"/></g>
</g>
</svg></div></body></html>
